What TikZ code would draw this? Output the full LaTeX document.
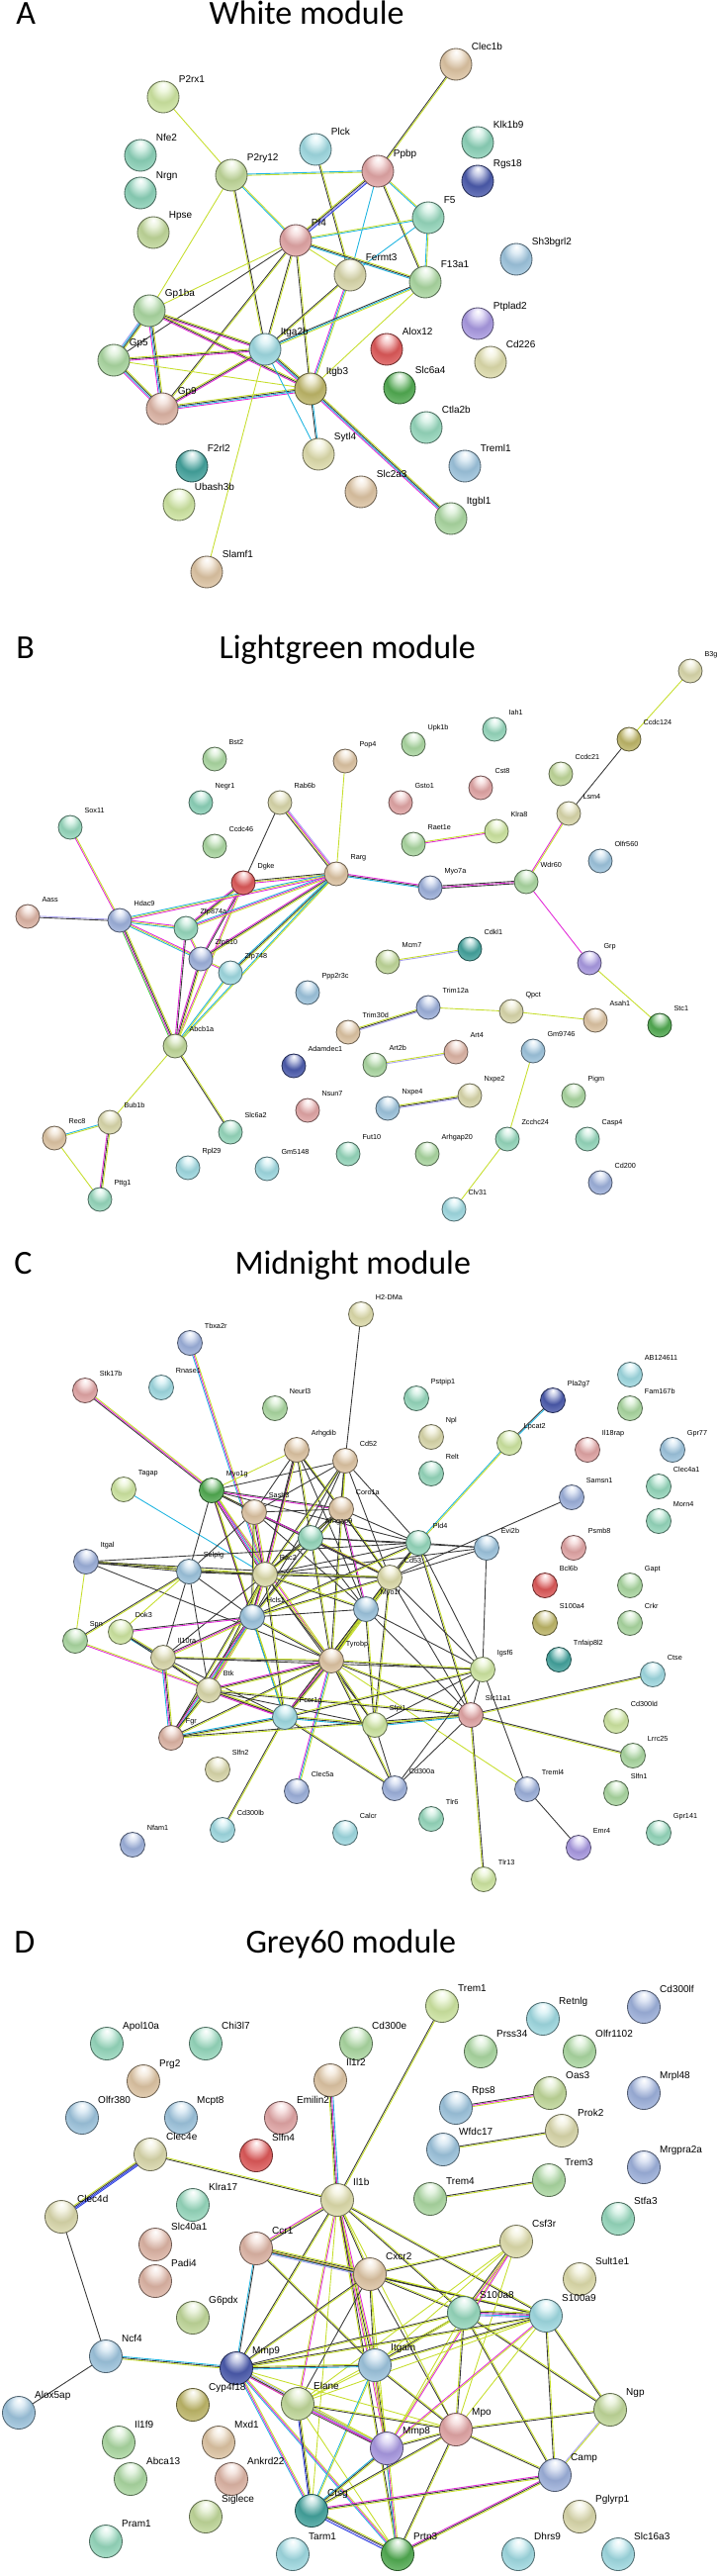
\documentclass[tikz,border=0pt]{standalone}
\usepackage{fontspec}
\newfontfamily\genefont{Liberation Sans}
\newfontfamily\ttlfont{Carlito}
\usetikzlibrary{calc,backgrounds}
% evidence colours of the links
\definecolor{tm}{HTML}{C6DE2C}
\definecolor{co}{HTML}{383838}
\definecolor{cu}{HTML}{1EB4E0}
\definecolor{ex}{HTML}{E22AD8}
\definecolor{ho}{HTML}{A8A0F0}
\definecolor{cq}{HTML}{2A3CE0}
\definecolor{nb}{HTML}{3CCB3C}
% node colours
\definecolor{pTan}{HTML}{E2C8A6}
\definecolor{pLime}{HTML}{D2EAA4}
\definecolor{pTeal}{HTML}{8ED6BC}
\definecolor{pSage}{HTML}{C4DC9C}
\definecolor{pCyan}{HTML}{A2DEE6}
\definecolor{pPink}{HTML}{E6A8A8}
\definecolor{pNavy}{HTML}{4C5CB0}
\definecolor{pMint}{HTML}{98DCC0}
\definecolor{pKhaki}{HTML}{DEDCAE}
\definecolor{pGreen}{HTML}{AEDCA4}
\definecolor{pSky}{HTML}{A0C8E2}
\definecolor{pPurple}{HTML}{AC9CE6}
\definecolor{pRed}{HTML}{E25A5A}
\definecolor{pYellow}{HTML}{E2E0AE}
\definecolor{pOlive}{HTML}{C2BA6A}
\definecolor{pDGreen}{HTML}{52AE52}
\definecolor{pSalmon}{HTML}{E2B8A8}
\definecolor{pDTeal}{HTML}{44A6A0}
\definecolor{pBlue}{HTML}{A0B4E0}
\colorlet{gball}{pGreen}
\pgfdeclareradialshading[gball]{glass}{\pgfpoint{0bp}{20bp}}{%
  color(0bp)=(white); color(8bp)=(gball!35!white); color(20bp)=(gball!92!black);
  color(36bp)=(gball!75!white); color(44bp)=(gball!85!black); color(50bp)=(gball!45!black)}
\def\lnkgap{0.5}
% parallel lines, one per evidence colour
\newcommand{\lnk}[3]{%
  \xdef\lnkn{0}%
  \foreach \lc in #3 {\xdef\lnkn{\the\numexpr\lnkn+1\relax}}%
  \foreach \lc [count=\li] in #3 {%
    \pgfmathsetmacro\lnko{(\li-(\lnkn+1)/2)*\lnkgap}%
    \draw[lk, draw=\lc] ($(#1)!\lnko pt!90:(#2)$) -- ($(#2)!\lnko pt!-90:(#1)$);}%
}
\begin{document}
\begin{tikzpicture}[x=0.4pt, y=-0.4pt,
    gene/.style={circle, inner sep=0pt, shading=glass, draw=gball!50!black, line width=0.35pt},
    lbl/.style={font=\genefont\fontsize{4}{4}\selectfont, anchor=base west, inner sep=0pt, xshift=1.5pt, yshift=1.1pt},
    lbls/.style={lbl, font=\genefont\fontsize{2.9}{3}\selectfont, xshift=0.6pt, yshift=1pt},
    ttl/.style={font=\ttlfont\fontsize{13.6}{16}\selectfont, anchor=base west, inner sep=0pt},
    lk/.style={line width=0.35pt}]
  \useasboundingbox (0,0) rectangle (725,2603);
  % titles
  \node[ttl] (ltrA) at (16,25) {A};
  \node[ttl] (ttlA) at (211,25) {White module};
  \node[ttl] (ltrB) at (16,665) {B};
  \node[ttl] (ttlB) at (221,665) {Lightgreen module};
  \node[ttl] (ltrC) at (14,1287) {C};
  \node[ttl] (ttlC) at (237,1287) {Midnight module};
  \node[ttl] (ltrD) at (14,1973) {D};
  \node[ttl] (ttlD) at (248,1973) {Grey60 module};
  % A: white module
  \foreach \nm/\x/\y/\col in {Clec1b/461/65/pTan, P2rx1/165/98/pLime, Nfe2/142/157/pTeal,
      Nrgn/142/195/pTeal, Hpse/155/235/pSage, P2ry12/234/177/pSage, Plck/319/151/pCyan,
      Ppbp/382/173/pPink, Klk1b9/483/144/pTeal, Rgs18/483/183/pNavy, F5/433/220/pMint,
      Pf4/299/243/pPink, Fermt3/354/278/pKhaki, F13a1/430/285/pGreen, Sh3bgrl2/522/262/pSky,
      Gp1ba/151/314/pGreen, Ptplad2/483/327/pPurple, Gp5/115/364/pGreen, Itga2b/268/353/pCyan,
      Alox12/391/353/pRed, Cd226/496/366/pYellow, Itgb3/314/393/pOlive, Slc6a4/404/392/pDGreen,
      Gp9/164/413/pSalmon, Ctla2b/431/432/pMint, Sytl4/322/459/pYellow, F2rl2/194/471/pDTeal,
      Treml1/470/471/pSky, Slc2a3/365/497/pTan, Ubash3b/181/510/pLime, Itgbl1/456/524/pGreen,
      Slamf1/209/578/pTan}{
    \colorlet{gball}{\col}
    \node[gene, minimum size=12.8pt, label={[lbl]45:\nm}] (a\nm) at (\x,\y) {};
  }
  % B: lightgreen module
  \foreach \nm/\x/\y/\col in {B3gnt/698/678/pKhaki, Ccdc124/636/747/pOlive, Iah1/500/737/pMint,
      Upk1b/418/752/pGreen, Bst2/217/767/pGreen, Pop4/349/769/pTan, Ccdc21/567/782/pSage,
      Cst8/486/796/pPink, Gsto1/405/811/pPink, Negr1/203/811/pTeal, Rab6b/283/811/pKhaki,
      Lsm4/575/822/pKhaki, Sox11/71/836/pMint, Klra8/502/840/pLime, Ccdc46/217/855/pGreen,
      Raet1e/418/853/pGreen, Olfr560/607/870/pSky, Rarg/340/883/pTan, Dgke/246/892/pRed,
      Myo7a/435/897/pBlue, Wdr60/532/891/pGreen, Aass/28/926/pSalmon, Hdac9/121/930/pBlue,
      Zfp874a/188/938/pMint, Zfp810/203/969/pBlue, Zfp748/233/983/pCyan, Mcm7/392/972/pSage,
      Cdkl1/475/959/pDTeal, Grp/596/973/pPurple, Ppp2r3c/311/1003/pSky, Trim12a/433/1018/pBlue,
      Qpct/517/1022/pKhaki, Asah1/602/1031/pTan, Stc1/667/1036/pDGreen, Trim30d/352/1043/pTan,
      Abcb1a/177/1057/pSage, Art4/461/1063/pSalmon, Gm9746/539/1062/pSky, Art2b/379/1076/pGreen,
      Adamdec1/297/1077/pNavy, Pigm/580/1107/pGreen, Nsun7/311/1122/pPink, Nxpe4/392/1120/pSky,
      Nxpe2/475/1107/pKhaki, Bub1b/111/1134/pKhaki, Rec8/55/1150/pTan, Slc6a2/233/1144/pMint,
      Zcchc24/513/1151/pMint, Casp4/594/1151/pMint, Fut10/352/1166/pMint, Arhgap20/432/1166/pGreen,
      Rpl29/190/1180/pCyan, Gm5148/270/1181/pCyan, Cd200/607/1195/pBlue, Pttg1/101/1212/pMint,
      Clv31/459/1222/pCyan}{
    \colorlet{gball}{\col}
    \node[gene, minimum size=9.6pt, label={[lbls]45:\nm}] (b\nm) at (\x,\y) {};
  }
  % C: midnight module
  \foreach \nm/\x/\y/\col in {H2-DMa/365/1328/pYellow, Tbxa2r/192/1357/pBlue, AB124611/637/1389/pCyan,
      Stk17b/86/1405/pPink, Rnase1/163/1402/pCyan, Pstpip1/421/1413/pMint, Pla2g7/559/1415/pNavy,
      Fam167b/637/1423/pGreen, Neurl3/278/1423/pGreen, Npl/436/1452/pKhaki, Lpcat2/515/1458/pLime,
      Il18rap/594/1465/pPink, Gpr77/680/1465/pSky, Arhgdib/300/1465/pTan, Cd52/349/1476/pTan,
      Relt/436/1489/pMint, Tagap/125/1505/pLime, Myo1g/214/1506/pDGreen, Samsn1/578/1513/pBlue,
      Clec4a1/666/1502/pMint, Coro1a/345/1525/pTan, Sash3/257/1528/pTan, Morn4/666/1537/pMint,
      Arhgap9/314/1554/pMint, Pld4/423/1559/pMint, Evi2b/492/1564/pSky, Psmb8/580/1564/pPink,
      Itgal/87/1578/pBlue, Selplg/191/1588/pSky, Rac2/268/1591/pYellow, Cd53/394/1594/pYellow,
      Bcl6b/551/1602/pRed, Gapt/637/1602/pGreen, Hcls1/255/1634/pSky, Myo1f/370/1626/pSky,
      S100a4/551/1640/pOlive, Crkr/637/1640/pGreen, Spn/76/1658/pGreen, Dok3/122/1649/pLime,
      Il10ra/165/1675/pKhaki, Tyrobp/335/1678/pTan, Tnfaip8l2/565/1677/pDTeal, Igsf6/488/1687/pLime,
      Ctse/660/1692/pCyan, Btk/211/1708/pKhaki, Fcer1g/288/1735/pCyan, Sfpi1/379/1743/pLime,
      Slc11a1/476/1733/pPink, Cd300ld/623/1739/pLime, Fgr/173/1756/pSalmon, Lrrc25/640/1774/pGreen,
      Slfn2/220/1788/pKhaki, Clec5a/300/1810/pBlue, Cd300a/399/1807/pBlue, Treml4/533/1808/pBlue,
      Slfn1/623/1812/pGreen, Nfam1/134/1864/pBlue, Cd300lb/225/1849/pCyan, Calcr/349/1852/pCyan,
      Tlr6/436/1838/pMint, Emr4/585/1867/pPurple, Gpr141/666/1852/pMint, Tlr13/489/1899/pLime}{
    \colorlet{gball}{\col}
    \node[gene, minimum size=10pt, label={[lbls]45:\nm}] (c\nm) at (\x,\y) {};
  }
  % D: grey60 module
  \foreach \nm/\x/\y/\col in {Trem1/447/2027/pLime, Cd300lf/651/2028/pBlue, Retnlg/549/2040/pCyan,
      Apol10a/108/2065/pMint, Chi3l7/208/2065/pMint, Cd300e/360/2065/pGreen, Prss34/486/2073/pGreen,
      Olfr1102/586/2073/pGreen, Il1r2/334/2102/pTan, Prg2/145/2103/pTan, Oas3/556/2115/pSage,
      Mrpl48/651/2115/pBlue, Rps8/461/2130/pSky, Olfr380/83/2140/pSky, Mcpt8/183/2140/pSky,
      Emilin2/284/2140/pPink, Prok2/568/2153/pKhaki, Wfdc17/448/2172/pSky, Clec4e/152/2177/pKhaki,
      Slfn4/259/2178/pRed, Mrgpra2a/651/2190/pBlue, Trem3/555/2203/pGreen, Trem4/435/2222/pGreen,
      Il1b/341/2223/pYellow, Klra17/195/2228/pMint, Clec4d/62/2240/pKhaki, Stfa3/625/2242/pMint,
      Ccr1/259/2272/pSalmon, Slc40a1/157/2268/pSalmon, Csf3r/522/2265/pYellow, Cxcr2/374/2298/pTan,
      Padi4/157/2305/pSalmon, Sult1e1/586/2303/pYellow, G6pdx/195/2342/pSage, S100a8/469/2337/pMint,
      S100a9/552/2340/pCyan, Ncf4/107/2381/pSky, Mmp9/239/2393/pNavy, Itgam/379/2390/pSky,
      Cyp4f18/195/2430/pOlive, Alox5ap/19/2438/pSky, Elane/301/2429/pSage, Ngp/617/2435/pSage,
      Mpo/461/2455/pPink, Il1f9/120/2468/pGreen, Mxd1/221/2468/pTan, Mmp8/391/2474/pPurple,
      Camp/561/2501/pBlue, Abca13/132/2505/pGreen, Ankrd22/234/2505/pSalmon, Ctsg/315/2537/pDTeal,
      Siglece/208/2543/pSage, Pglyrp1/586/2543/pKhaki, Pram1/107/2568/pMint, Tarm1/296/2581/pCyan,
      Prtn3/402/2581/pDGreen, Dhrs9/524/2581/pCyan, Slc16a3/625/2581/pCyan}{
    \colorlet{gball}{\col}
    \node[gene, minimum size=13.2pt, label={[lbl]45:\nm}] (d\nm) at (\x,\y) {};
  }
  \begin{scope}[on background layer]
    \foreach \u/\v/\cs in {Clec1b/Ppbp/{co,tm}, P2rx1/P2ry12/{tm}, P2ry12/Ppbp/{tm,cu},
        P2ry12/Pf4/{cu,tm}, P2ry12/Gp1ba/{tm}, P2ry12/Itga2b/{tm,co}, Plck/Fermt3/{co,tm},
        Ppbp/Pf4/{tm,co,ho,cq}, Ppbp/F5/{cu,tm}, Ppbp/F13a1/{co,tm}, Ppbp/Fermt3/{cu},
        Pf4/F5/{cu,tm}, F5/Fermt3/{cu}, F5/F13a1/{cu,tm}, Pf4/F13a1/{cu,co,tm}, Pf4/Fermt3/{tm},
        Pf4/Gp1ba/{tm}, Pf4/Gp5/{co}, Pf4/Gp9/{co,tm}, Pf4/Itga2b/{co,tm}, Pf4/Itgb3/{co,tm},
        Fermt3/Itgb3/{ex,cu,tm}, Fermt3/Itga2b/{co,tm}, F13a1/Itga2b/{co,cu,tm}, F13a1/Itgb3/{tm},
        Gp1ba/Gp5/{ho,cu,co,tm}, Gp1ba/Gp9/{ex,cu,co,tm}, Gp1ba/Itga2b/{ex,co,tm}, Gp1ba/Itgb3/{ex,co,tm},
        Gp5/Gp9/{ex,cu,co,tm}, Gp5/Itga2b/{ex,co,tm}, Gp5/Itgb3/{tm}, Gp9/Itga2b/{ex,co,tm},
        Gp9/Itgb3/{ex,cu,co,tm}, Itga2b/Itgb3/{ex,cu,co,tm}, Itga2b/Sytl4/{cu}, Itgb3/Sytl4/{co,cu},
        Itgb3/Itgbl1/{ex,cu,co,tm}, Itga2b/Slamf1/{tm}}{\lnk{a\u}{a\v}{\cs}}
    \foreach \u/\v/\cs in {B3gnt/Ccdc124/{tm}, Ccdc124/Lsm4/{co}, Lsm4/Wdr60/{ex,tm}, Wdr60/Grp/{ex},
        Grp/Stc1/{tm}, Pop4/Rarg/{tm}, Rab6b/Dgke/{co}, Rab6b/Rarg/{co,tm,ex,ho}, Raet1e/Klra8/{ex,tm},
        Rarg/Myo7a/{cu,co,ex}, Myo7a/Wdr60/{co,ex,co}, Dgke/Rarg/{ex,tm,co}, Sox11/Hdac9/{ex,tm},
        Aass/Hdac9/{co,ho}, Hdac9/Zfp874a/{cu,tm,ex}, Hdac9/Zfp810/{cu,tm,ex}, Hdac9/Abcb1a/{nb,ex,co,tm},
        Dgke/Zfp874a/{ex,co,tm}, Dgke/Zfp810/{ex,co}, Dgke/Abcb1a/{ex,tm}, Rarg/Zfp874a/{cu,ex,tm},
        Rarg/Zfp810/{ex,co,tm}, Rarg/Zfp748/{cu,co,tm}, Rarg/Hdac9/{cu,tm,ex}, Rarg/Abcb1a/{cu,tm},
        Zfp874a/Zfp810/{ex,tm}, Zfp810/Zfp748/{ex,tm}, Zfp874a/Abcb1a/{ex,co}, Zfp810/Abcb1a/{ex,co,tm},
        Zfp748/Abcb1a/{cu,tm}, Abcb1a/Bub1b/{tm}, Abcb1a/Slc6a2/{co,tm}, Bub1b/Rec8/{cu,tm},
        Bub1b/Pttg1/{ex,co,tm}, Rec8/Pttg1/{tm}, Mcm7/Cdkl1/{ho,tm}, Trim30d/Trim12a/{ho,co,tm},
        Trim12a/Qpct/{tm}, Qpct/Asah1/{tm}, Art2b/Art4/{ho,tm}, Nxpe4/Nxpe2/{ho,co,tm},
        Gm9746/Zcchc24/{tm}, Zcchc24/Clv31/{tm}}{\lnk{b\u}{b\v}{\cs}}
    \foreach \u/\v/\cs in {Stk17b/Myo1g/{co,ex,tm}, Tbxa2r/Rac2/{cu,ex,tm}, H2-DMa/Cd52/{co},
        Tagap/Rac2/{cu}, Pla2g7/Lpcat2/{co,cu}, Lpcat2/Pld4/{cu,tm}, Samsn1/Cd53/{co}, Evi2b/Igsf6/{co},
        Evi2b/Pld4/{co}, Evi2b/Cd53/{co}, Evi2b/Rac2/{co}, Evi2b/Arhgap9/{co},
        Myo1g/Sash3/{co,tm}, Myo1g/Coro1a/{ex,co}, Myo1g/Arhgdib/{tm}, Myo1g/Cd52/{co},
        Myo1g/Rac2/{co,ex,cu,tm}, Myo1g/Selplg/{co}, Myo1g/Hcls1/{ex,tm}, Myo1g/Cd53/{co},
        Myo1g/Tyrobp/{ex,tm}, Myo1g/Fcer1g/{co,tm}, Myo1g/Pld4/{co},
        Arhgdib/Rac2/{co,ex,tm}, Arhgdib/Sash3/{co}, Arhgdib/Coro1a/{co,tm}, Arhgdib/Hcls1/{co},
        Arhgdib/Cd53/{co}, Arhgdib/Myo1f/{co}, Arhgdib/Tyrobp/{co,tm},
        Cd52/Coro1a/{co,tm}, Cd52/Sash3/{co}, Cd52/Rac2/{co,tm}, Cd52/Cd53/{co}, Cd52/Pld4/{co},
        Cd52/Tyrobp/{co,tm}, Cd52/Hcls1/{co}, Cd52/Arhgap9/{co},
        Sash3/Rac2/{co,ex,tm}, Sash3/Coro1a/{co}, Sash3/Arhgap9/{co}, Sash3/Hcls1/{co,tm},
        Sash3/Cd53/{co,ex}, Sash3/Myo1f/{co}, Sash3/Selplg/{co},
        Coro1a/Rac2/{co,tm}, Coro1a/Pld4/{co}, Coro1a/Cd53/{co,tm}, Coro1a/Hcls1/{co,tm},
        Coro1a/Myo1f/{co,ex}, Coro1a/Arhgap9/{co},
        Arhgap9/Rac2/{co,tm}, Arhgap9/Pld4/{co}, Arhgap9/Hcls1/{co}, Arhgap9/Cd53/{co,tm}, Arhgap9/Myo1f/{co},
        Pld4/Cd53/{co,tm}, Pld4/Myo1f/{co}, Pld4/Rac2/{co}, Pld4/Tyrobp/{co,tm}, Pld4/Igsf6/{co},
        Pld4/Slc11a1/{co,tm}, Pld4/Hcls1/{co,tm},
        Itgal/Selplg/{co,tm}, Itgal/Rac2/{co,tm}, Itgal/Spn/{tm}, Itgal/Pld4/{co}, Itgal/Cd53/{co},
        Itgal/Tyrobp/{co},
        Selplg/Rac2/{co,tm}, Selplg/Hcls1/{co}, Selplg/Dok3/{tm}, Selplg/Il10ra/{co}, Selplg/Btk/{co},
        Selplg/Cd53/{co}, Selplg/Spn/{co,tm},
        Rac2/Cd53/{co,tm}, Rac2/Hcls1/{co,ex,tm}, Rac2/Myo1f/{co,tm}, Rac2/Tyrobp/{co,tm},
        Rac2/Fcer1g/{co,tm}, Rac2/Btk/{co,tm}, Rac2/Il10ra/{co}, Rac2/Fgr/{co,tm}, Rac2/Sfpi1/{co},
        Cd53/Myo1f/{co}, Cd53/Hcls1/{co,tm}, Cd53/Tyrobp/{co,tm}, Cd53/Igsf6/{co}, Cd53/Slc11a1/{co},
        Cd53/Sfpi1/{co,tm}, Cd53/Fcer1g/{co,tm},
        Hcls1/Myo1f/{co}, Hcls1/Tyrobp/{co,tm}, Hcls1/Il10ra/{co,ex,tm}, Hcls1/Btk/{co,ex,tm},
        Hcls1/Fgr/{co,ex,cu,tm}, Hcls1/Fcer1g/{cu,tm}, Hcls1/Dok3/{co,ex},
        Myo1f/Tyrobp/{co,tm}, Myo1f/Sfpi1/{co,tm}, Myo1f/Igsf6/{co}, Myo1f/Slc11a1/{co}, Myo1f/Fcer1g/{co,tm},
        Spn/Fcer1g/{ex,tm}, Dok3/Il10ra/{cu,co,tm}, Dok3/Btk/{co},
        Il10ra/Tyrobp/{co,tm}, Il10ra/Btk/{co,tm}, Il10ra/Fgr/{cu,ex,co,tm}, Il10ra/Igsf6/{co},
        Il10ra/Fcer1g/{co},
        Tyrobp/Btk/{ex,co,tm}, Tyrobp/Fcer1g/{ex,co,tm}, Tyrobp/Sfpi1/{co,tm}, Tyrobp/Slc11a1/{co,tm},
        Tyrobp/Igsf6/{co,tm}, Tyrobp/Fgr/{co,tm}, Tyrobp/Clec5a/{ex,cu,tm}, Tyrobp/Cd300a/{co,tm},
        Tyrobp/Treml4/{tm},
        Btk/Fcer1g/{ex,co,tm}, Btk/Fgr/{co,tm}, Btk/Sfpi1/{co}, Btk/Slc11a1/{co,tm},
        Fcer1g/Fgr/{cu,co,tm}, Fcer1g/Sfpi1/{cu,co,tm}, Fcer1g/Cd300a/{co,tm}, Fcer1g/Cd300lb/{co,tm},
        Fcer1g/Igsf6/{co,tm},
        Sfpi1/Slc11a1/{cu,co,tm}, Sfpi1/Cd300a/{co}, Sfpi1/Igsf6/{co},
        Slc11a1/Igsf6/{co}, Slc11a1/Ctse/{tm,co}, Slc11a1/Lrrc25/{tm,co}, Slc11a1/Tlr13/{tm,co},
        Slc11a1/Cd300a/{co}, Slc11a1/Fgr/{co,tm},
        Igsf6/Treml4/{co}, Igsf6/Cd300a/{co}, Treml4/Emr4/{co}}{\lnk{c\u}{c\v}{\cs}}
    \foreach \u/\v/\cs in {Trem1/Il1b/{co,tm}, Il1r2/Il1b/{tm,co,ex,cu}, Clec4e/Clec4d/{tm,co,cq,cq},
        Clec4e/Il1b/{co,tm}, Clec4d/Ncf4/{co}, Ncf4/Alox5ap/{co}, Ncf4/Mmp9/{tm,co,cu},
        Rps8/Oas3/{tm,ex,co}, Wfdc17/Prok2/{tm,co}, Trem4/Trem3/{tm,co},
        Il1b/Ccr1/{ex,tm,co}, Il1b/Cxcr2/{co,tm}, Il1b/Mmp9/{co,tm}, Il1b/Itgam/{co,tm,ex},
        Il1b/Mmp8/{ex,tm}, Il1b/Elane/{tm,ex}, Il1b/Mpo/{tm}, Il1b/S100a8/{co,tm}, Il1b/S100a9/{co,tm},
        Il1b/Prtn3/{tm,co}, Il1b/Ctsg/{tm},
        Ccr1/Cxcr2/{ho,cu,ex,co,tm}, Ccr1/Mmp9/{cu,co}, Ccr1/Itgam/{co,tm}, Ccr1/S100a9/{co,tm},
        Cxcr2/Csf3r/{co,tm}, Cxcr2/Mmp9/{co,tm}, Cxcr2/Itgam/{co,tm}, Cxcr2/S100a8/{co,tm},
        Cxcr2/S100a9/{co,tm}, Cxcr2/Mpo/{co}, Cxcr2/Mmp8/{tm}, Cxcr2/Elane/{co},
        Csf3r/S100a8/{co,tm,ex}, Csf3r/Itgam/{tm}, Csf3r/Mpo/{tm}, Csf3r/Mmp8/{tm,ex}, Csf3r/Elane/{tm},
        S100a8/S100a9/{ho,cu,ex,co,tm}, S100a8/Itgam/{co,tm}, S100a8/Mmp9/{co,tm}, S100a8/Mpo/{tm,co},
        S100a8/Camp/{co,tm}, S100a8/Ngp/{co,tm}, S100a8/Mmp8/{tm}, S100a8/Elane/{tm},
        S100a9/Ngp/{co,tm}, S100a9/Camp/{co,tm}, S100a9/Mmp8/{ex,tm}, S100a9/Itgam/{co,tm},
        S100a9/Mmp9/{co,tm}, S100a9/Mpo/{tm}, S100a9/Elane/{tm},
        Mmp9/Itgam/{cu,co,tm}, Mmp9/Elane/{tm}, Mmp9/Mmp8/{ex,co,ho,tm}, Mmp9/Ctsg/{cu,ex,tm},
        Mmp9/Prtn3/{cu,ex,tm}, Mmp9/Mpo/{tm},
        Itgam/Elane/{tm}, Itgam/Mmp8/{ex,co,tm}, Itgam/Ctsg/{cu,tm}, Itgam/Prtn3/{tm}, Itgam/Mpo/{co,tm},
        Elane/Mmp8/{co,ex,ho,tm}, Elane/Ctsg/{cq,co,tm}, Elane/Prtn3/{tm}, Elane/Mpo/{co,tm},
        Mmp8/Mpo/{co,tm}, Mmp8/Ctsg/{cu,co,tm}, Mmp8/Prtn3/{cu,ex,tm},
        Mpo/Ngp/{co,tm}, Mpo/Camp/{co,tm}, Mpo/Prtn3/{co,tm}, Mpo/Ctsg/{co,tm}, Ngp/Camp/{ho,tm},
        Camp/Ctsg/{ex,co,tm}, Camp/Prtn3/{ex,co,tm}, Ctsg/Prtn3/{cq,ho,co,tm}}{\lnk{d\u}{d\v}{\cs}}
  \end{scope}
\end{tikzpicture}
\end{document}
